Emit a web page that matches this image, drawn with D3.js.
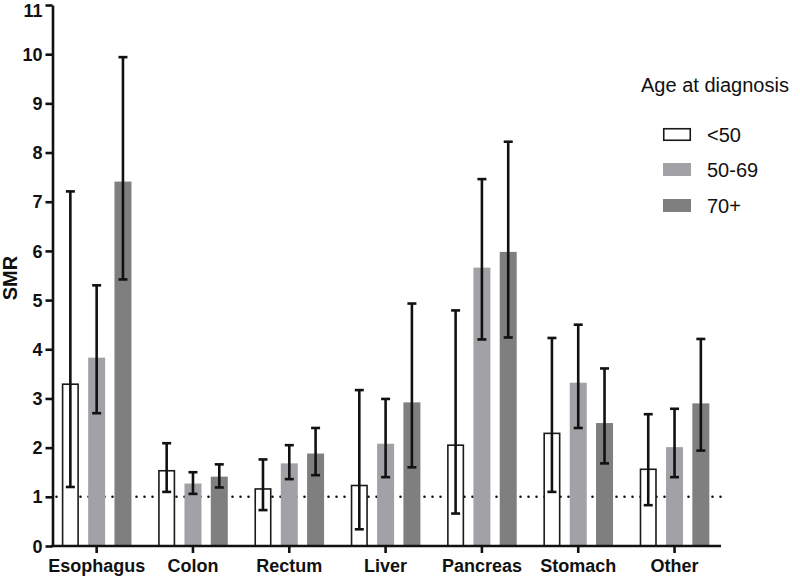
<!DOCTYPE html>
<html>
<head>
<meta charset="utf-8">
<script src="https://cdn.jsdelivr.net/npm/d3@7"></script>
<style>
  html, body { margin: 0; padding: 0; background: #fff; }
  svg { display: block; }
  text { font-family: "Liberation Sans", Arial, sans-serif; }
</style>
</head>
<body>
<svg id="chart" width="800" height="577"></svg>
<script>
// ---- data ----
const categories = ["Esophagus", "Colon", "Rectum", "Liver", "Pancreas", "Stomach", "Other"];
const groups = ["<50", "50-69", "70+"];
const smrUnder50 = [3.29, 1.53, 1.16, 1.23, 2.05, 2.29, 1.56];
const lowUnder50 = [1.20, 1.10, 0.73, 0.34, 0.66, 1.10, 0.83];
const highUnder50 = [7.21, 2.09, 1.76, 3.17, 4.79, 4.23, 2.68];
const smr50to69 = [3.83, 1.27, 1.68, 2.08, 5.66, 3.32, 2.01];
const low50to69 = [2.70, 1.06, 1.36, 1.40, 4.20, 2.40, 1.40];
const high50to69 = [5.30, 1.50, 2.05, 2.99, 7.46, 4.50, 2.79];
const smr70plus = [7.41, 1.41, 1.88, 2.92, 5.98, 2.50, 2.90];
const low70plus = [5.42, 1.19, 1.44, 1.60, 4.24, 1.68, 1.94];
const high70plus = [9.94, 1.66, 2.40, 4.93, 8.22, 3.61, 4.21];
const yTicks = [0, 1, 2, 3, 4, 5, 6, 7, 8, 9, 10, 11];
const referenceLine = 1;

const seriesValues = [smrUnder50, smr50to69, smr70plus];
const seriesLow = [lowUnder50, low50to69, low70plus];
const seriesHigh = [highUnder50, high50to69, high70plus];
const fills = ["#ffffff", "#a1a1a6", "#7f7f7f"];

const rows = [];
categories.forEach((c, i) => {
  groups.forEach((g, j) => {
    rows.push({ cat: c, grp: g, gi: j, v: seriesValues[j][i], lo: seriesLow[j][i], hi: seriesHigh[j][i] });
  });
});

// ---- layout ----
const svg = d3.select("#chart");
const axisX = 52.5, axisEnd = 721;
const y = d3.scaleLinear().domain([0, 11]).range([546, 5]);
const x0 = d3.scaleBand().domain(categories).range([48.5, 722.7]).paddingInner(0).paddingOuter(0);
const x1 = d3.scaleBand().domain(groups).range([0, 69.6]).paddingInner(0.354).paddingOuter(0);
const groupShift = -34.8;
const barX = d => x0(d.cat) + x0.bandwidth() / 2 + groupShift + x1(d.grp);

// reference dotted line (behind bars)
svg.append("line")
  .attr("x1", axisX + 4).attr("x2", axisEnd)
  .attr("y1", y(referenceLine)).attr("y2", y(referenceLine))
  .attr("stroke", "#111").attr("stroke-width", 2.6)
  .attr("stroke-linecap", "round")
  .attr("stroke-dasharray", "0,8");

// bars
svg.append("g").selectAll("rect").data(rows).join("rect")
  .attr("x", d => barX(d) + (d.gi === 0 ? 0.75 : 0))
  .attr("width", d => x1.bandwidth() - (d.gi === 0 ? 1.5 : 0))
  .attr("y", d => y(d.v))
  .attr("height", d => y(0) - y(d.v))
  .attr("fill", d => fills[d.gi])
  .attr("stroke", d => d.gi === 0 ? "#1a1a1a" : "none")
  .attr("stroke-width", 1.6);

// error bars
const eb = svg.append("g").attr("stroke", "#111").attr("stroke-width", 2.6);
rows.forEach(d => {
  const cx = barX(d) + x1.bandwidth() / 2;
  eb.append("line").attr("x1", cx).attr("x2", cx).attr("y1", y(d.hi)).attr("y2", y(d.lo));
  eb.append("line").attr("x1", cx - 4.5).attr("x2", cx + 4.5).attr("y1", y(d.hi)).attr("y2", y(d.hi));
  eb.append("line").attr("x1", cx - 4.5).attr("x2", cx + 4.5).attr("y1", y(d.lo)).attr("y2", y(d.lo));
});

// y axis
const yAxis = svg.append("g").attr("transform", `translate(${axisX},0)`)
  .call(d3.axisLeft(y).tickValues(yTicks).tickFormat(d3.format("d")).tickSize(7).tickSizeOuter(0).tickPadding(3));
yAxis.select(".domain").attr("stroke", "#111").attr("stroke-width", 2.6);
yAxis.selectAll(".tick line").attr("stroke", "#111").attr("stroke-width", 2.6);
yAxis.selectAll(".tick text").attr("font-size", 18).attr("font-weight", "bold").attr("fill", "#111")
  .style("font-family", '"Liberation Sans", Arial, sans-serif')
  .attr("dy", d => d === 11 ? "0.64em" : "0.34em");

// x axis
const xAxis = svg.append("g").attr("transform", `translate(0,${y(0)})`)
  .call(d3.axisBottom(x0).tickSize(7).tickSizeOuter(0).tickPadding(6));
xAxis.select(".domain").remove();
xAxis.append("line").attr("x1", axisX - 1.3).attr("x2", axisEnd).attr("y1", 0).attr("y2", 0)
  .attr("stroke", "#111").attr("stroke-width", 2.6);
xAxis.selectAll(".tick line").attr("stroke", "#111").attr("stroke-width", 2.6);
xAxis.selectAll(".tick text").attr("font-size", 18).attr("font-weight", "bold").attr("fill", "#111")
  .style("font-family", '"Liberation Sans", Arial, sans-serif');

// y axis title
svg.append("text")
  .attr("transform", "translate(17,278) rotate(-90)")
  .attr("text-anchor", "middle")
  .attr("font-size", 20).attr("font-weight", "bold").attr("fill", "#111")
  .text("SMR");

// legend
const legend = svg.append("g");
legend.append("text").attr("x", 641).attr("y", 92)
  .attr("font-size", 20).attr("fill", "#111").text("Age at diagnosis");
const legendY = [134.5, 169.5, 205.5];
groups.forEach((g, j) => {
  legend.append("rect")
    .attr("x", 663 + (j === 0 ? 0.75 : 0)).attr("y", legendY[j] - 6.5 + (j === 0 ? 0.75 : 0))
    .attr("width", 28 - (j === 0 ? 1.5 : 0)).attr("height", 13 - (j === 0 ? 1.5 : 0))
    .attr("fill", fills[j])
    .attr("stroke", j === 0 ? "#1a1a1a" : "none").attr("stroke-width", 1.6);
  legend.append("text").attr("x", 707).attr("y", legendY[j] + 7)
    .attr("font-size", 20).attr("fill", "#111").text(g);
});
</script>
</body>
</html>
